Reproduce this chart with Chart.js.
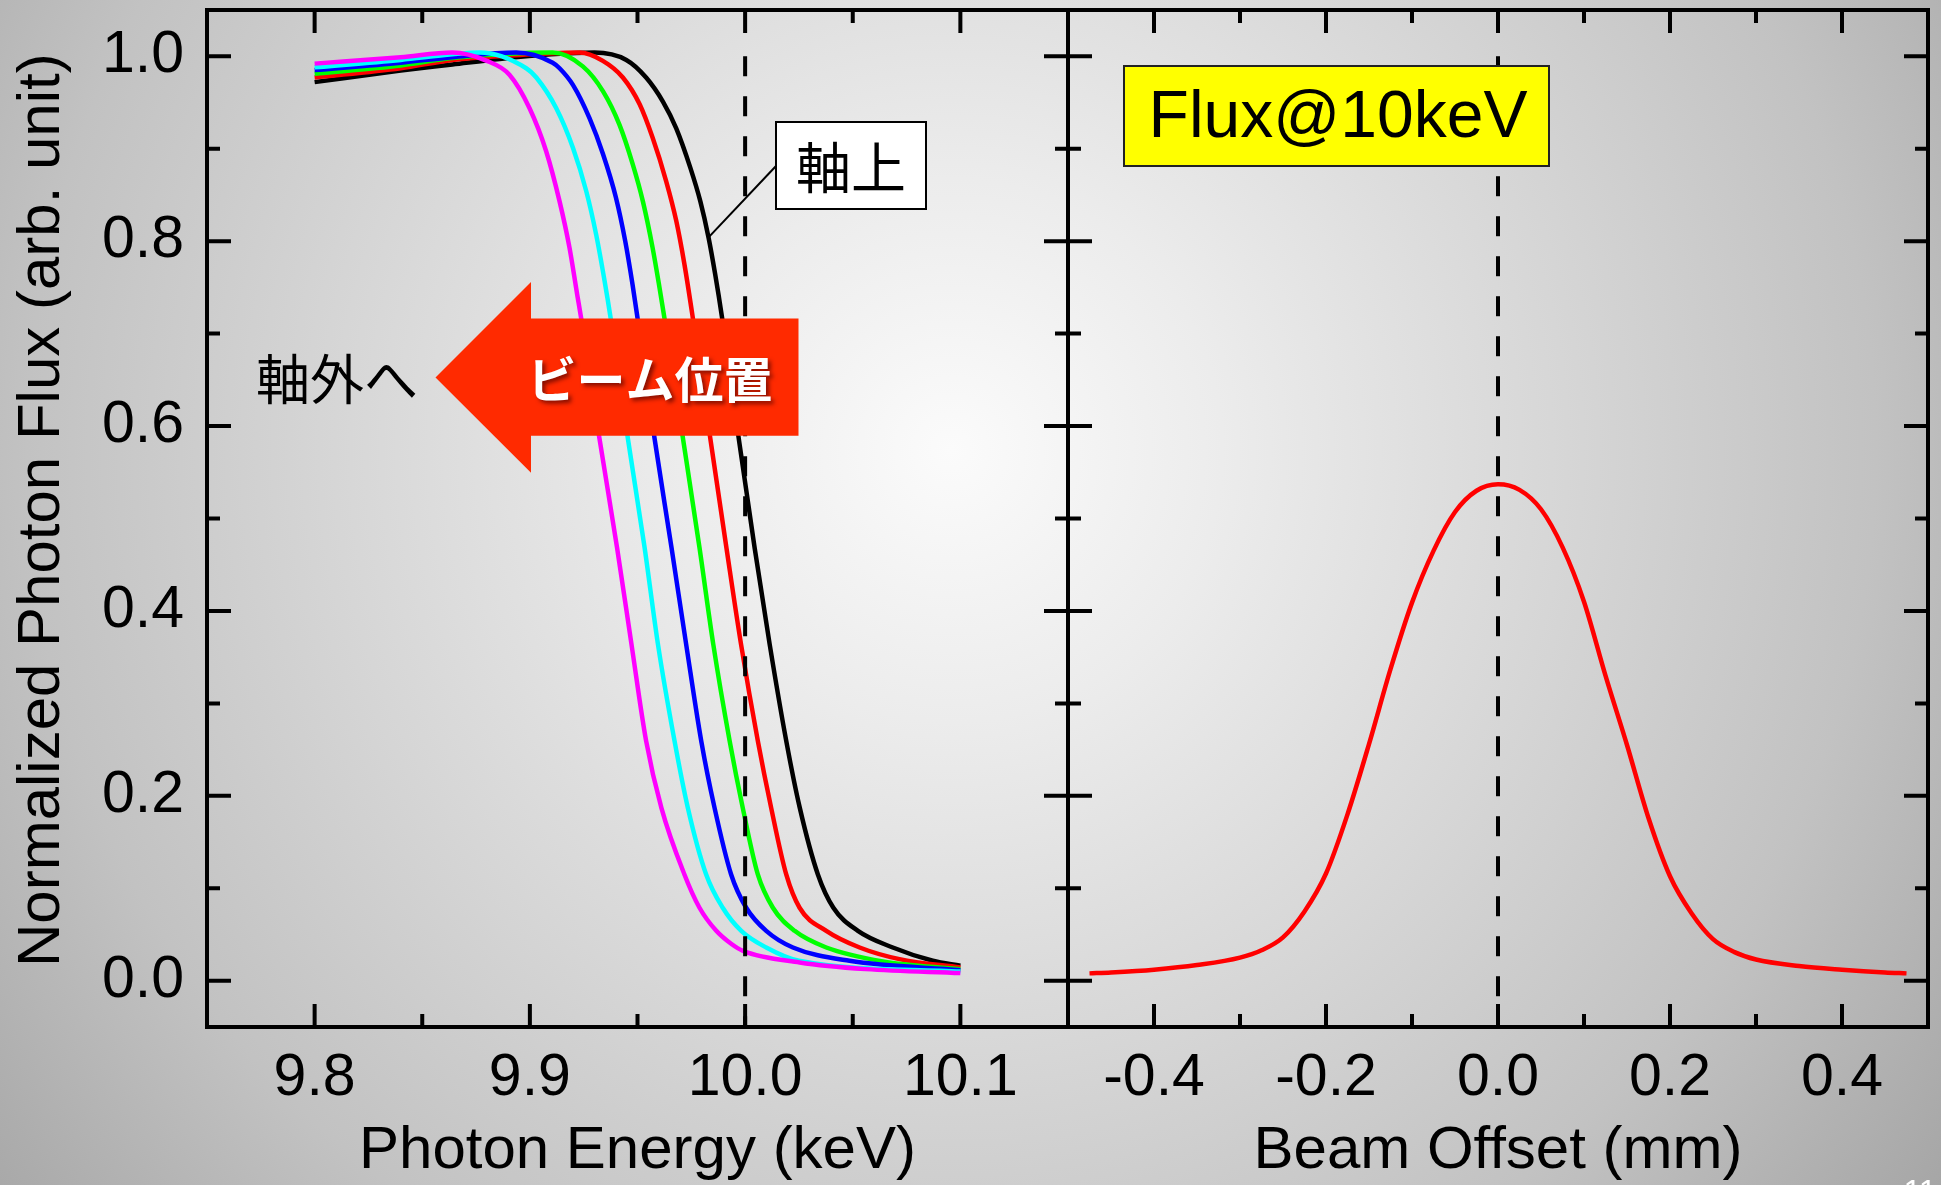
<!DOCTYPE html>
<html>
<head>
<meta charset="utf-8">
<title>Photon flux vs energy and beam offset</title>
<script src="https://cdn.jsdelivr.net/npm/chart.js@4.4.1/dist/chart.umd.min.js"></script>
<style>
  html, body { margin: 0; padding: 0; width: 1941px; height: 1185px; overflow: hidden; }
  body {
    background: radial-gradient(circle farthest-corner at 49% 38%,
      #fbfbfb 0%, #ececec 22%, #d6d6d6 50%, #c2c2c2 75%, #a6a6a6 100%);
  }
  canvas { position: absolute; top: 0; }
  #energyChart { left: 0; }
  #offsetChart { left: 1040px; }
</style>
</head>
<body>
<canvas id="energyChart" width="1100" height="1185"></canvas>
<canvas id="offsetChart" width="901" height="1185"></canvas>
<script>
// ---- Energy scans: normalized flux for six beam positions (black = on axis) ----
const energyMagenta = [9.800, 9.840, 9.864, 9.880, 9.8905, 9.8998, 9.9076, 9.9138, 9.9184, 9.9220, 9.9238, 9.9323, 9.9405, 9.9472, 9.9540, 9.9611, 9.9718, 9.9788, 9.9866, 9.9935, 9.9990, 10.0253, 10.056, 10.100];
const fluxMagenta   = [0.992, 0.999, 1.004, 0.995, 0.980, 0.944, 0.897, 0.843, 0.793, 0.742, 0.717, 0.587, 0.4685, 0.364, 0.2595, 0.187, 0.115, 0.079, 0.054, 0.040, 0.0324, 0.0198, 0.0126, 0.0083];

const energyCyan = [9.800, 9.840, 9.864, 9.8766, 9.8983, 9.903, 9.9122, 9.920, 9.9262, 9.9308, 9.9347, 9.9375, 9.9455, 9.9533, 9.9595, 9.9672, 9.9734, 9.9819, 9.9896, 9.9982, 10.0098, 10.025, 10.100];
const fluxCyan   = [0.988, 0.996, 1.002, 1.004, 0.987, 0.977, 0.944, 0.901, 0.854, 0.807, 0.757, 0.717, 0.587, 0.4685, 0.364, 0.2595, 0.187, 0.115, 0.079, 0.054, 0.036, 0.0216, 0.010];

const energyBlue = [9.800, 9.840, 9.864, 9.8936, 9.9106, 9.9138, 9.920, 9.9277, 9.934, 9.940, 9.9443, 9.9477, 9.950, 9.9579, 9.9658, 9.9726, 9.9796, 9.9858, 9.9935, 10.0005, 10.0098, 10.0222, 10.0485, 10.100];
const fluxBlue   = [0.985, 0.993, 0.999, 1.004, 0.993, 0.987, 0.969, 0.933, 0.894, 0.847, 0.800, 0.753, 0.717, 0.587, 0.4685, 0.364, 0.2595, 0.187, 0.115, 0.079, 0.054, 0.036, 0.0216, 0.0115];

const energyGreen = [9.800, 9.840, 9.864, 9.9106, 9.9246, 9.934, 9.9416, 9.9478, 9.9525, 9.957, 9.9602, 9.9625, 9.9711, 9.9788, 9.9852, 9.9928, 9.9989, 10.0059, 10.0129, 10.023, 10.0377, 10.064, 10.100];
const fluxGreen   = [0.981, 0.990, 0.998, 1.004, 0.989, 0.962, 0.926, 0.883, 0.843, 0.793, 0.750, 0.717, 0.587, 0.4685, 0.364, 0.2595, 0.187, 0.115, 0.079, 0.054, 0.036, 0.021, 0.0126];

const energyRed = [9.800, 9.840, 9.864, 9.900, 9.923, 9.9339, 9.9432, 9.951, 9.957, 9.9633, 9.968, 9.9718, 9.9757, 9.9838, 9.9913, 9.9981, 10.0059, 10.0121, 10.0191, 10.0253, 10.0377, 10.0532, 10.0717, 10.100];
const fluxRed   = [0.977, 0.987, 0.996, 1.002, 1.004, 0.995, 0.977, 0.948, 0.912, 0.865, 0.822, 0.775, 0.717, 0.587, 0.4685, 0.364, 0.2595, 0.187, 0.115, 0.079, 0.054, 0.036, 0.0234, 0.0144];

const energyBlack = [9.800, 9.840, 9.864, 9.886, 9.910, 9.930, 9.9448, 9.954, 9.9618, 9.968, 9.9746, 9.9792, 9.9830, 9.9861, 9.9893, 9.9970, 10.0044, 10.0114, 10.0191, 10.0254, 10.0338, 10.0410, 10.0524, 10.0686, 10.0872, 10.100];
const fluxBlack   = [0.972, 0.9845, 0.991, 0.997, 1.002, 1.004, 0.996, 0.977, 0.951, 0.922, 0.879, 0.843, 0.804, 0.764, 0.717, 0.587, 0.4685, 0.364, 0.2595, 0.187, 0.115, 0.079, 0.054, 0.036, 0.0216, 0.0162];

// ---- Flux at 10 keV versus beam offset ----
const offsetMm  = [-0.475, -0.45, -0.4, -0.35, -0.3, -0.275, -0.25, -0.225, -0.2, -0.175, -0.15, -0.125, -0.1, -0.075, -0.05, -0.025, 0, 0.025, 0.05, 0.075, 0.1, 0.125, 0.15, 0.175, 0.2, 0.225, 0.25, 0.275, 0.3, 0.35, 0.4, 0.45, 0.475];
const flux10keV = [0.008, 0.009, 0.012, 0.017, 0.025, 0.033, 0.047, 0.075, 0.116, 0.180, 0.256, 0.337, 0.409, 0.465, 0.507, 0.530, 0.537, 0.531, 0.510, 0.469, 0.410, 0.330, 0.255, 0.176, 0.113, 0.073, 0.045, 0.031, 0.023, 0.016, 0.012, 0.009, 0.008];

// ---- Tick values ----
const energyTicks = [9.8, 9.9, 10.0, 10.1];
const energyMinor = [9.85, 9.95, 10.05];
const offsetTicks = [-0.4, -0.2, 0.0, 0.2, 0.4];
const offsetMinor = [-0.3, -0.1, 0.1, 0.3];
const fluxTicks   = [0.0, 0.2, 0.4, 0.6, 0.8, 1.0];
const fluxMinor   = [0.1, 0.3, 0.5, 0.7, 0.9];

const SANS = "'Liberation Sans', Arial, sans-serif";
const CJK  = "'Noto Sans CJK JP', 'Noto Sans CJK SC', sans-serif";
Chart.defaults.font.family = SANS;
Chart.defaults.color = '#000';

const pairs = (xs, ys) => xs.map((x, i) => ({ x, y: ys[i] }));
const curve = (xs, ys, color) => ({
  data: pairs(xs, ys),
  borderColor: color,
  borderWidth: 4.5,
  pointRadius: 0,
  showLine: true,
  fill: false,
  cubicInterpolationMode: 'monotone',
  borderJoinStyle: 'round'
});
const fixedTicks = vals => scale => { scale.ticks = vals.map(v => ({ value: v })); };
const oneDecimal = v => Number(v).toFixed(1);

// Inward tick marks on all four sides plus the box frame
const frameTicks = {
  id: 'frameTicks',
  afterDatasetsDraw(chart, args, o) {
    const { ctx, chartArea: a } = chart;
    const xs = chart.scales.x, ys = chart.scales.y;
    ctx.save();
    ctx.strokeStyle = '#000';
    ctx.lineWidth = 4;
    ctx.lineCap = 'butt';
    ctx.beginPath();
    const seg = (x1, y1, x2, y2) => { ctx.moveTo(x1, y1); ctx.lineTo(x2, y2); };
    const yTick = (v, len) => { const p = ys.getPixelForValue(v); seg(a.left, p, a.left + len, p); seg(a.right, p, a.right - len, p); };
    const xTick = (v, len) => { const p = xs.getPixelForValue(v); seg(p, a.top, p, a.top + len); seg(p, a.bottom, p, a.bottom - len); };
    o.yMajor.forEach(v => yTick(v, 24));
    o.yMinor.forEach(v => yTick(v, 13));
    o.xMajor.forEach(v => xTick(v, 23));
    o.xMinor.forEach(v => xTick(v, 13));
    ctx.stroke();
    ctx.lineJoin = 'miter';
    ctx.strokeRect(a.left, a.top, a.right - a.left, a.bottom - a.top);
    ctx.restore();
  }
};

// Dashed vertical reference line
const refLine = {
  id: 'refLine',
  afterDatasetsDraw(chart, args, o) {
    const { ctx, chartArea: a } = chart;
    const px = chart.scales.x.getPixelForValue(o.value);
    const top = chart.scales.y.getPixelForValue(o.from);
    ctx.save();
    ctx.strokeStyle = '#000';
    ctx.lineWidth = 4;
    ctx.setLineDash([20, 20]);
    ctx.beginPath();
    ctx.moveTo(px, top);
    ctx.lineTo(px, a.bottom);
    ctx.stroke();
    ctx.restore();
  }
};

// Labels, arrow and callout of the energy panel
const energyNotes = {
  id: 'energyNotes',
  afterDraw(chart) {
    const { ctx } = chart;
    const xs = chart.scales.x, ys = chart.scales.y;
    ctx.save();

    // callout pointing at the on-axis curve
    const k = fluxBlack.indexOf(0.804);
    const cx = xs.getPixelForValue(energyBlack[k]);
    const cy = ys.getPixelForValue(fluxBlack[k]);
    ctx.strokeStyle = '#000';
    ctx.lineWidth = 2;
    ctx.beginPath();
    ctx.moveTo(cx, cy);
    ctx.lineTo(776, 166);
    ctx.stroke();
    ctx.fillStyle = '#fff';
    ctx.fillRect(776, 122, 150, 87);
    ctx.strokeRect(776, 122, 150, 87);
    ctx.fillStyle = '#000';
    ctx.font = `55px ${CJK}`;
    ctx.textAlign = 'center';
    ctx.textBaseline = 'middle';
    ctx.fillText('軸上', 851, 167);

    // big arrow towards off-axis positions
    ctx.fillStyle = '#ff2a00';
    ctx.beginPath();
    ctx.moveTo(435.5, 377.5);
    ctx.lineTo(531, 282);
    ctx.lineTo(531, 318.5);
    ctx.lineTo(798.5, 318.5);
    ctx.lineTo(798.5, 435.7);
    ctx.lineTo(531, 435.7);
    ctx.lineTo(531, 472.7);
    ctx.closePath();
    ctx.fill();

    ctx.save();
    ctx.shadowColor = 'rgba(70, 0, 0, 0.65)';
    ctx.shadowBlur = 4;
    ctx.shadowOffsetX = 3;
    ctx.shadowOffsetY = 3;
    ctx.fillStyle = '#fff';
    ctx.font = `bold 49px ${CJK}`;
    ctx.fillText('ビーム位置', 650, 379);
    ctx.restore();

    ctx.fillStyle = '#000';
    ctx.font = `54px ${CJK}`;
    ctx.fillText('軸外へ', 337, 379);
    ctx.restore();
  }
};

// Yellow label of the offset panel
const offsetNotes = {
  id: 'offsetNotes',
  afterDraw(chart) {
    const { ctx, chartArea: a } = chart;
    ctx.save();
    const bx = a.left + 56, by = a.top + 56, bw = 425, bh = 100;
    ctx.fillStyle = '#ffff00';
    ctx.fillRect(bx, by, bw, bh);
    ctx.strokeStyle = '#222';
    ctx.lineWidth = 2;
    ctx.strokeRect(bx, by, bw, bh);
    ctx.fillStyle = '#000';
    ctx.font = `66px ${SANS}`;
    ctx.textAlign = 'center';
    ctx.textBaseline = 'middle';
    ctx.fillText('Flux@10keV', bx + 214, by + 53);

    // slide number at the page corner
    ctx.fillStyle = '#fff';
    ctx.font = `32px ${SANS}`;
    ctx.textBaseline = 'alphabetic';
    ctx.fillText('11', 880, 1202);
    ctx.restore();
  }
};

const baseOptions = {
  responsive: false,
  animation: false,
  events: [],
  plugins: { legend: { display: false }, tooltip: { enabled: false } }
};

const tickFont = { size: 59 };
const titleFont = { size: 60, lineHeight: 1 };

new Chart(document.getElementById('energyChart'), {
  type: 'scatter',
  data: {
    datasets: [
      curve(energyMagenta, fluxMagenta, '#ff00ff'),
      curve(energyCyan, fluxCyan, '#00ffff'),
      curve(energyBlue, fluxBlue, '#0000ff'),
      curve(energyGreen, fluxGreen, '#00ff00'),
      curve(energyRed, fluxRed, '#ff0000'),
      curve(energyBlack, fluxBlack, '#000000')
    ]
  },
  options: {
    ...baseOptions,
    layout: { padding: { left: 0, top: 10, right: 32, bottom: 0 } },
    scales: {
      x: {
        type: 'linear', min: 9.75, max: 10.15,
        afterBuildTicks: fixedTicks(energyTicks),
        afterFit: s => { s.height = 158; s.paddingLeft = 0; s.paddingRight = 0; },
        grid: { display: false, drawTicks: false },
        border: { display: false },
        ticks: { font: tickFont, color: '#000', padding: 16, maxRotation: 0, autoSkip: false, callback: oneDecimal },
        title: { display: true, text: 'Photon Energy (keV)', font: titleFont, color: '#000', padding: { top: 0, bottom: 4 } }
      },
      y: {
        type: 'linear', min: -0.05, max: 1.05,
        afterBuildTicks: fixedTicks(fluxTicks),
        afterFit: s => { s.width = 207; s.paddingTop = 0; s.paddingBottom = 0; },
        grid: { display: false, drawTicks: false },
        border: { display: false },
        ticks: { font: tickFont, color: '#000', padding: 23, autoSkip: false, callback: oneDecimal },
        title: { display: true, text: ' Normalized Photon Flux (arb. unit)', font: titleFont, color: '#000', padding: { top: 12, bottom: 0 } }
      }
    },
    plugins: {
      ...baseOptions.plugins,
      refLine: { value: 10.0, from: 1.0 },
      frameTicks: { xMajor: energyTicks, xMinor: energyMinor, yMajor: fluxTicks, yMinor: fluxMinor }
    }
  },
  plugins: [refLine, frameTicks, energyNotes]
});

new Chart(document.getElementById('offsetChart'), {
  type: 'scatter',
  data: { datasets: [curve(offsetMm, flux10keV, '#ff0000')] },
  options: {
    ...baseOptions,
    layout: { padding: { left: 28, top: 10, right: 13, bottom: 0 } },
    scales: {
      x: {
        type: 'linear', min: -0.5, max: 0.5,
        afterBuildTicks: fixedTicks(offsetTicks),
        afterFit: s => { s.height = 158; s.paddingLeft = 0; s.paddingRight = 0; },
        grid: { display: false, drawTicks: false },
        border: { display: false },
        ticks: { font: tickFont, color: '#000', padding: 16, maxRotation: 0, autoSkip: false, callback: oneDecimal },
        title: { display: true, text: 'Beam Offset (mm)', font: titleFont, color: '#000', padding: { top: 0, bottom: 4 } }
      },
      y: { type: 'linear', min: -0.05, max: 1.05, display: false }
    },
    plugins: {
      ...baseOptions.plugins,
      refLine: { value: 0.0, from: 1.0 },
      frameTicks: { xMajor: offsetTicks, xMinor: offsetMinor, yMajor: fluxTicks, yMinor: fluxMinor }
    }
  },
  plugins: [refLine, frameTicks, offsetNotes]
});
</script>
</body>
</html>
